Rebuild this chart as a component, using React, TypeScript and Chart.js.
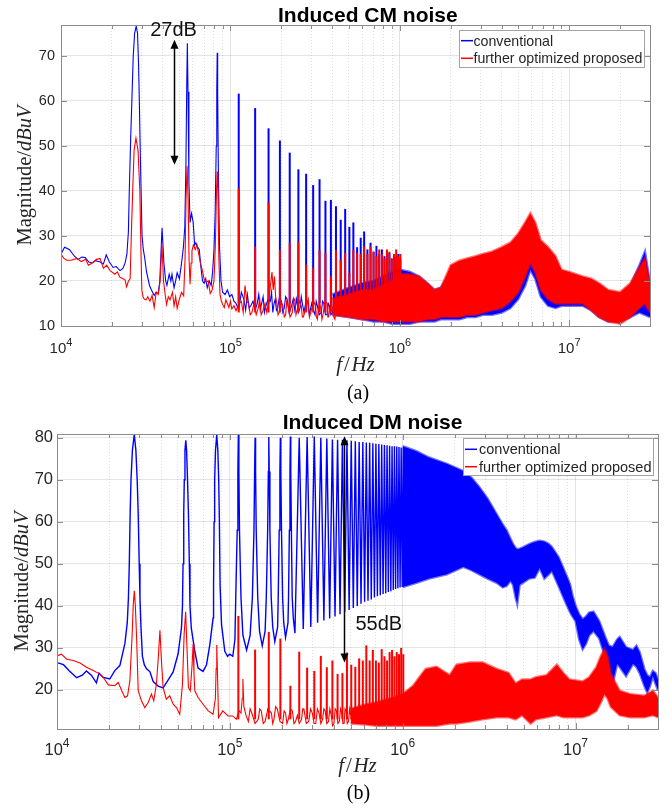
import React, { useEffect, useRef } from "react";
import { Chart, registerables } from "chart.js";

Chart.register(...registerables);

type Pair = [number, number];

/* ===================== DATA (frequency in kHz, magnitude in dBuV) ===================== */

const seriesNames = ["conventional", "further optimized proposed"];
const decadeExponents = [4, 5, 6, 7];

// switching harmonics k = 4 ... 36
const harmonicKHz = [112, 140, 168, 196, 224, 252, 280, 308, 336, 364, 392, 420, 448, 476, 504, 532, 560, 588, 616, 644, 672, 700, 728, 756, 784, 812, 840, 868, 896, 924, 952, 980, 1008];

/* ---------- (a) Induced CM noise ---------- */
const cmConvLow: Pair[] = [
  [10, 26], [10.5, 27.5], [11.2, 27], [12, 25.5], [12.6, 24.8], [13.3, 25.3], [13.9, 25.2], [14.6, 24.2], [15.2, 24], [16, 24.5],
  [17, 24.2], [17.8, 23.8], [18.5, 25.8], [19.3, 24.2], [20.3, 23], [21.2, 23.2], [22.3, 22.3], [23.2, 22.8], [23.9, 24], [24.5, 26],
  [25, 31], [25.3, 40], [25.8, 52], [26.2, 60], [26.7, 70], [27.2, 75], [27.8, 76.6], [28.3, 75], [28.7, 68], [29, 60],
  [29.4, 48], [29.7, 40], [30.1, 30], [30.6, 27], [31.1, 25.5], [32, 22], [33.3, 19], [34.2, 18], [35.5, 16.8], [36.5, 17.5],
  [37.5, 17.2], [38.3, 20], [39.5, 31.8], [40.5, 24], [41.5, 20], [42.2, 19], [43.5, 21.5], [44.5, 20], [45.2, 21.5], [46.5, 18.5],
  [47.5, 20], [48.5, 21.8], [50, 20.5], [51.5, 24], [52.8, 27.5], [53.8, 32], [54.6, 45], [55.2, 62], [55.7, 72.8], [56.2, 62],
  [56.9, 42], [57.8, 33], [59, 35], [60.3, 33], [61.5, 28], [62.5, 28.5], [64, 27.5], [65.5, 27], [67, 23], [68.5, 20],
  [70, 19.5], [71.5, 20.5], [73, 18.5], [75, 20], [77, 19], [78.5, 22], [80, 27], [81.3, 35], [82.5, 50], [83.1, 62],
  [83.6, 70.7], [84.1, 62], [84.9, 45], [86.2, 28], [88, 20], [90, 17.5], [93, 17], [96, 18], [99, 16.5], [102, 17], [105, 15.5],
];
const cmPropLow: Pair[] = [
  [10, 26], [10.4, 25], [10.8, 24.6], [11.5, 24.6], [12.4, 25], [13.2, 24.3], [14, 24.8], [14.5, 23.5], [15.3, 24], [16.2, 24.8],
  [17, 25], [17.8, 22.8], [18.6, 23.5], [19.5, 22.3], [20.8, 21.5], [21.5, 22], [22.3, 20.8], [23.3, 20.5], [23.9, 20.2], [24.4, 18.7],
  [25, 20], [25.6, 20.5], [26, 30], [26.5, 40], [27, 49], [27.7, 51.7], [28.5, 49], [29.2, 40], [29.6, 28], [30, 18],
  [30.5, 16.5], [31, 16], [31.8, 15.8], [32.5, 16.5], [33.5, 15.5], [34.5, 16.8], [35.5, 14.1], [36.5, 17.5], [37.5, 17], [38.5, 20],
  [39.4, 28.4], [40.3, 20], [41.2, 17], [42, 14.8], [43, 16.5], [44, 15.8], [45.5, 17.5], [46.5, 14.5], [47.5, 16.5], [48.5, 13.9],
  [50, 16], [51.5, 17.5], [53, 16.7], [54, 25], [54.7, 38], [55.5, 45.6], [56.3, 38], [57, 25], [57.8, 19.3], [58.6, 24],
  [59.3, 26.7], [60.5, 28], [62, 27], [63.5, 28], [65, 26], [66.5, 24], [68, 22.7], [70, 20.4], [72, 19.8], [74, 20],
  [76, 17.2], [78, 18], [80, 20], [81.5, 28], [82.8, 40], [83.6, 44.3], [84.4, 40], [85.5, 25], [86.8, 17], [88.5, 15.5],
  [90, 14.8], [92, 14.1], [94, 15.8], [96, 15], [98, 14.1], [100, 15.5], [102, 13.8], [105, 14.5],
];
const cmConvPeaks = [61.6, 58.4, 53.9, 51.2, 48.5, 44.8, 43.8, 41.3, 42.6, 37.8, 38, 36.6, 33.6, 36, 32, 33, 27.5, 29.6, 31, 27, 28.5, 26.5, 27.8, 26, 27, 25.5, 26, 26.2, 25, 25.5, 25.5, 26, 25];
const cmPropPeaks = [40.6, 27.6, 37.4, 26.9, 28.4, 28.7, 23.6, 22.9, 26.9, 26.2, 21, 26.9, 24.7, 26.2, 21.8, 26.9, 26.2, 26, 27.6, 26, 27.6, 26.5, 25.5, 27, 26, 25, 27, 26.5, 25, 26, 27, 25.5, 26];
const cmConvSpikeBase = 15;
const cmPropSpikeBase = 13;
const cmConvFloor: Pair[] = [
  [108, 15], [112, 13.5], [116, 17.5], [120, 16], [123, 13.5], [126, 17], [129, 14], [132, 14.5], [136, 15.5], [140, 13.5],
  [144, 15], [147, 17], [150, 13.5], [153, 15], [156, 16.5], [159, 13], [162, 14.5], [167, 16], [172, 15.5], [175, 17.5],
  [178, 13], [181, 15], [184, 16], [187, 13.5], [190, 14], [195, 16.5], [200, 15.5], [204, 13], [208, 14], [212, 16.5],
  [216, 16], [222, 13], [230, 14.5], [235, 16], [240, 13.5], [246, 16], [252, 13], [258, 14], [262, 16.5], [266, 15],
  [272, 13], [278, 15], [286, 15.5], [292, 12.5], [296, 13.5], [302, 15], [309, 13.5], [316, 12.5], [321, 15.5], [326, 14.5],
  [334, 12.5], [344, 13], [350, 15.5], [356, 15], [364, 12.5], [372, 12.5], [378, 15], [384, 14.5], [392, 12.5], [400, 13],
  [410, 15.5], [420, 12.5], [430, 12.5],
];
const cmPropFloor: Pair[] = [
  [108, 13.4], [112, 15], [116, 15.5], [119, 13], [122, 19], [125, 15.5], [128, 15], [131, 12.5], [134, 13], [138, 15],
  [142, 12.5], [146, 14], [149, 16], [152, 12.5], [156, 13.5], [160, 15], [164, 13], [170, 17], [173, 19.5], [176, 22],
  [179, 18], [182, 21], [185, 16.5], [188, 15], [191, 12.5], [194, 13], [199, 15.5], [204, 14.5], [208, 12], [212, 12.5],
  [215, 15.5], [218, 15], [225, 12], [232, 13], [236, 15.5], [240, 16], [244, 12.5], [248, 13.5], [255, 15.5], [262, 14.5],
  [266, 12], [270, 12], [280, 14.5], [288, 16], [293, 12], [298, 13], [310, 15.5], [318, 14.5], [322, 12], [326, 11.5],
  [334, 15], [342, 14], [347, 11.5], [352, 12.5], [362, 15.5], [372, 15], [376, 12], [380, 12], [390, 15], [402, 14],
  [408, 12], [414, 11.5], [422, 14.5], [430, 13],
];
const cmBandKHz = [400, 500, 600, 700, 800, 900, 1000, 1150, 1300, 1450, 1600, 1750, 2000, 2250, 2500, 2800, 3100, 3500, 4000, 4500, 5000, 5500, 5900, 6300, 6800, 7500, 8300, 9000, 10000, 12000, 13500, 15000, 17000, 20000, 23000, 26000, 28000, 30000];
const cmPropBandHi = [16, 17, 18, 18, 19, 20, 21.5, 21.5, 21, 19.5, 18, 18.5, 23.5, 24.5, 25, 25.5, 26, 26.5, 27.5, 28.5, 30.5, 33, 35, 33, 29, 27.5, 25.5, 22.5, 22, 21, 20.5, 19.5, 18, 17.5, 19.5, 23, 25, 19];
const cmPropBandLo = [12.5, 12, 11.5, 11.5, 11, 11, 11, 11, 11, 11.5, 11.5, 12, 12, 12, 12.5, 12.5, 13, 13.5, 14, 15.5, 17.5, 21, 24, 22, 18, 16, 15, 15, 15, 15, 13.5, 12, 11, 10.5, 12, 14, 15, 13];
const cmConvBandHi = [17, 18.5, 19.5, 20, 21, 22, 22.5, 22, 21, 19.5, 18, 18.5, 22, 23, 24, 24.5, 25, 25.5, 26, 27, 28, 29, 30, 29, 27, 26, 24.5, 22, 21.5, 20.5, 20, 19, 17.5, 17, 19, 23.5, 26.5, 19.5];
const cmConvBandLo = [12.5, 12, 11.5, 11, 11, 10.5, 10.5, 10.5, 11, 11, 11, 11.5, 11.5, 11.5, 12, 12, 12.5, 12.5, 13, 14, 16, 19, 22.5, 20.5, 16.5, 14.5, 14, 14.5, 14.5, 14.5, 13.5, 12, 11, 11, 12, 13, 12.5, 12];
const cmGap = { kHz: 46.5, topDb: 73.6, bottomDb: 45.8, labelDb: 74.5, label: "27dB" };

/* ---------- (b) Induced DM noise ---------- */
const dmConvLow: Pair[] = [
  [10, 26.5], [10.9, 26], [11.8, 24.5], [13, 22.9], [14, 23.5], [14.8, 24.5], [15.8, 23.5], [16.9, 21.7], [17.5, 24], [18.5, 23],
  [20.2, 22.6], [21.6, 24.6], [23.1, 25.8], [24.7, 31], [25.5, 36], [25.9, 42], [26.2, 50], [26.5, 62], [26.8, 70], [27.3, 77],
  [28, 80.8], [28.6, 77], [29.1, 70], [29.5, 62], [29.9, 50], [30.2, 42], [30.6, 35], [31.2, 28], [32, 26], [32.9, 25.1],
  [34.5, 24.3], [36, 22], [38.5, 20.9], [41.1, 20.5], [44, 22.4], [47, 24.3], [50.2, 28.6], [52.5, 34.8], [53.2, 40], [53.6, 50],
  [54.1, 62], [54.5, 70], [55, 77], [55.6, 79.4], [56.2, 77], [56.9, 70], [57.6, 62], [58.3, 50], [58.8, 40], [59.8, 34.8],
  [62.7, 29.2], [65.5, 25.2], [70, 24.4], [73.3, 26], [76.6, 30.8], [80, 37.1], [80.5, 45], [81.1, 60], [81.7, 70], [82.6, 77],
  [84, 80.7], [85.2, 77], [86.2, 70], [87, 60], [87.8, 45], [89.5, 35.6], [93.5, 29.2], [97, 28], [99.8, 28.5], [104, 28],
  [107, 32], [108.2, 42], [110.3, 58], [111.3, 72], [112, 80.7], [112.8, 72], [113.7, 58], [116, 42], [119, 33], [125, 29.5],
  [131, 33], [135, 42], [137.9, 58], [139.1, 72], [140, 80], [140.9, 72], [142.1, 58], [145, 42], [148.5, 34], [154, 30.5],
  [160, 34], [162.5, 42], [165.5, 58], [167, 72], [168, 80.2], [169, 72], [170.5, 58], [173.5, 42], [177, 35], [182, 31.5],
  [189, 35], [190.5, 42], [193, 58], [194.8, 72], [196, 80], [197.2, 72], [199, 58], [202, 42], [205, 36], [210, 32.5],
  [217, 36], [218.5, 42], [221, 58], [222.8, 72], [224, 80.3], [225.2, 72], [227, 58], [229.5, 42], [233, 37], [238, 33.5],
];
// peaks of harmonics k = 9 ... 36 and the valleys between them
const dmConvPeaks = [80, 80.2, 80.3, 80, 79.8, 79.6, 79.5, 79.5, 79.4, 79.3, 79.2, 79, 79, 78.9, 78.8, 78.7, 78.6, 78.5, 78.4, 78.3, 78.2, 78.1, 78, 78, 77.9, 77.8, 77.7, 77.6];
const dmValleyKHz = [266, 294, 322, 350, 378, 406, 434, 462, 490, 518, 546, 574, 602, 630, 658, 686, 714, 742, 770, 798, 826, 854, 882, 910, 938, 966, 994];
const dmConvValleys = [34.5, 35, 36, 36.5, 37, 37.5, 38, 38.5, 39, 39.5, 40, 40.5, 41, 41.2, 41.5, 42, 42.3, 42.5, 42.8, 43, 43.3, 43.5, 43.8, 44, 44.2, 44.4, 44.5];
const dmConvBandKHz = [1000, 1200, 1420, 1800, 2240, 2500, 2780, 3100, 3500, 3800, 4000, 4200, 4350, 4500, 4600, 4750, 5000, 5400, 5800, 6200, 6600, 7000, 7300, 8000, 8800, 9300, 9600, 10000, 10500, 11000, 11500, 12000, 12700, 13700, 14900, 15600, 16400, 17400, 18000, 19600, 21500, 22500, 23500, 25000, 26000, 27000, 28000, 29000, 30000];
const dmConvBandHi = [78, 76.8, 75.3, 73.8, 72.1, 70.5, 68.2, 65.5, 61.8, 59.3, 57.9, 56, 54.7, 53.8, 53.5, 53.6, 54, 54.7, 55.2, 55.5, 55.3, 54.7, 54, 51.5, 47.5, 45.1, 42.5, 40, 38, 36.8, 37.5, 38.4, 38.6, 36.4, 32.5, 30.5, 30.2, 32, 32.6, 30.2, 29.5, 30.5, 29, 25, 23.5, 23, 24.5, 24, 22.5];
const dmConvBandLo = [44.5, 45.5, 46.5, 47.5, 49.3, 48.5, 47.5, 46.5, 45.5, 44.4, 44.8, 46, 45, 42, 40.5, 45, 45.6, 46.5, 46.7, 49, 46.5, 47.5, 48.3, 44.6, 40.6, 38.5, 37.5, 36.4, 32, 29.7, 31, 33, 34, 32.3, 27.7, 24.5, 21.4, 26.2, 25.5, 23.3, 26.2, 25.5, 24, 21, 19.4, 21, 23.3, 21.5, 20];
const dmPropLow: Pair[] = [
  [10, 28.1], [10.6, 28.5], [11.4, 27.3], [12.4, 27], [13.6, 26.4], [14.8, 25.4], [16.2, 24.6], [17.3, 24], [18.5, 23], [19.8, 21.2],
  [21.6, 21], [22.6, 21.8], [23.7, 19.8], [24.7, 18.2], [25.6, 18.6], [26.4, 22.2], [27.2, 33], [27.6, 40], [28, 43.6], [28.4, 40],
  [28.9, 32], [29.5, 19.8], [30.8, 17.4], [32.2, 15.8], [33.7, 17], [35.2, 19], [36.3, 17.4], [37.6, 21.4], [38.6, 28], [39.4, 34.2],
  [40.2, 27], [41.1, 20.6], [42.9, 17.8], [44.9, 18.6], [47, 16.6], [49.1, 15.8], [51.3, 14.2], [53.2, 21.4], [54.4, 33.3], [55.5, 38.6],
  [56.5, 30], [57.6, 20.6], [59, 19.8], [60.5, 26], [61.3, 30.9], [62, 24], [62.7, 19.8], [65.5, 18.2], [70, 16.6], [75, 15],
  [80, 14.2], [82.5, 18], [83.3, 25], [84, 30.7], [84.8, 24], [86, 13.4], [91, 15], [97.7, 13.8], [104, 13.8],
];
const dmPropPeaks = [37.6, 29.6, 33.8, 32.2, 21, 29.1, 25.3, 24.5, 28.1, 25.4, 27, 23.8, 24, 28.9, 26, 25.5, 27.5, 27, 30.6, 27, 29.5, 27, 26.5, 29.7, 28, 27, 29, 29.5, 28, 29, 28.5, 30, 28.5];
const dmPropSpikeBase = 13;
const dmPropFloor: Pair[] = [
  [109, 13], [113, 15], [116, 14.5], [118, 18], [119, 22.6], [120.5, 16], [124, 14], [128, 12.5], [131, 15.5], [134, 14.5],
  [140, 12], [146, 13], [149, 15.5], [152, 15], [156, 12], [160, 12.5], [166, 15.5], [174, 14.5], [177, 12], [180, 13],
  [184, 16], [188, 15.5], [195, 12.5], [202, 12], [206, 15], [210, 14.5], [214, 12], [218, 13], [224, 15.5], [230, 15],
  [235, 12], [240, 12.5], [246, 14], [252, 12], [260, 13], [264, 15.5], [268, 15.5], [277, 12], [286, 12.5], [293, 15.5],
  [300, 14.5], [307, 12], [314, 12], [321, 15.5], [328, 14.5], [336, 12], [344, 13], [350, 15.5], [356, 15], [364, 12],
  [372, 12.5], [379, 15.5], [386, 14], [393, 11.5], [400, 12], [407, 15.5], [414, 15], [422, 12], [430, 12.5], [437, 15.5],
  [444, 14.5], [451, 12], [458, 12], [464, 15.5], [470, 15], [478, 12], [486, 12.5], [493, 15.5], [500, 14],
];
const dmPropBandKHz = [500, 600, 700, 850, 1000, 1150, 1250, 1360, 1570, 1870, 2050, 2450, 2900, 3500, 4100, 4500, 4900, 5500, 5900, 6800, 7800, 8500, 9200, 11000, 12000, 13200, 14000, 14700, 15300, 16000, 18000, 20600, 25000, 28000, 30000];
const dmPropBandHi = [15.5, 16.5, 17, 18, 19, 21, 23, 25, 25.5, 23.5, 26, 26.5, 26.5, 25, 24, 21.5, 22.5, 22.5, 23, 23.5, 26, 24, 22.5, 22, 23, 25.4, 28, 29.7, 28, 23.8, 19.8, 19, 18.6, 19.8, 18.2];
const dmPropBandLo = [12, 11.8, 11.5, 11.5, 11.5, 11.5, 11.5, 11.5, 11.5, 12, 12, 12.5, 13, 13.5, 13.5, 13, 14, 12, 13, 13.5, 14, 13.5, 13.5, 13.5, 14, 15, 17, 19, 18, 16, 14, 13.5, 13.5, 14, 13.5];
const dmGap = { kHz: 455, topDb: 80.35, bottomDb: 26.5, labelDb: 34.3, label: "55dB" };

/* ===================== STYLE / BUILDERS ===================== */

const SANS = '"Liberation Sans", Arial, Helvetica, sans-serif';
const SERIF = '"Liberation Serif", "Times New Roman", serif';
const TEXT = "#262626";
const AXIS = "#8c8c8c";
const BLUE = "#0000ff";
const RED = "#ff0000";
const BLUE_FRINGE = "rgba(0,0,255,0.55)";
const RED_FRINGE = "rgba(255,0,0,0.55)";
const W = 671;

const toHz = (k: number) => k * 1000;
const pts = (p: Pair[]) => p.map(([k, v]) => ({ x: toHz(k), y: v }));
const series = (f: number[], v: number[]) => f.map((k, i) => ({ x: toHz(k), y: v[i] }));
const spikes = (f: number[], peaks: number[], base: number) => f.map((k, i) => ({ x: toHz(k), y: [base, peaks[i]] }));
const zigzag = (pf: number[], pv: number[], vf: number[], vv: number[]) => {
  const out: any[] = [];
  pf.forEach((k, i) => {
    out.push({ x: toHz(k), y: pv[i] });
    if (i < vf.length) out.push({ x: toHz(vf[i]), y: vv[i] });
  });
  return out;
};

const lineDs = (data: any[], color: string, order: number, extra: any = {}) => ({
  type: "line", data, borderColor: color, backgroundColor: color, borderWidth: 1.1,
  pointRadius: 0, pointHoverRadius: 0, tension: 0, fill: false, order, ...extra,
});
const barDs = (data: any[], color: string, order: number) => ({
  type: "bar", data, backgroundColor: color, borderWidth: 0, grouped: false,
  barPercentage: 1, categoryPercentage: 1, maxBarThickness: 2, inflateAmount: 0, order,
});
const bandDs = (f: number[], lo: number[], hi: number[], color: string, fringe: string, order: number) => [
  lineDs(series(f, lo), fringe, order, { borderWidth: 2.5, backgroundColor: color }),
  lineDs(series(f, hi), fringe, order, { borderWidth: 2.5, backgroundColor: color, fill: "-1" }),
];

const cmDatasets = [
  ...bandDs(cmBandKHz, cmPropBandLo, cmPropBandHi, RED, RED_FRINGE, 0),
  lineDs(pts([...cmPropLow, ...cmPropFloor]), RED, 0),
  barDs(spikes(harmonicKHz, cmPropPeaks, cmPropSpikeBase), RED, 0),
  ...bandDs(cmBandKHz, cmConvBandLo, cmConvBandHi, BLUE, BLUE_FRINGE, 1),
  lineDs(pts([...cmConvLow, ...cmConvFloor]), BLUE, 1),
  barDs(spikes(harmonicKHz, cmConvPeaks, cmConvSpikeBase), BLUE, 1),
];

const dmDatasets = [
  ...bandDs(dmPropBandKHz, dmPropBandLo, dmPropBandHi, RED, RED_FRINGE, 0),
  lineDs(pts([...dmPropLow, ...dmPropFloor]), RED, 0),
  barDs(spikes(harmonicKHz, dmPropPeaks, dmPropSpikeBase), RED, 0),
  ...bandDs(dmConvBandKHz, dmConvBandLo, dmConvBandHi, BLUE, BLUE_FRINGE, 1),
  lineDs([...pts(dmConvLow), ...zigzag(harmonicKHz.slice(5), dmConvPeaks, dmValleyKHz, dmConvValleys)], BLUE, 1, { borderWidth: 1.4 }),
];

const cmSpec = {
  height: 405,
  area: { left: 61, top: 25, right: 650, bottom: 326 },
  yMin: 10, yMax: 76.85,
  datasets: cmDatasets,
  yTick: { size: 14.5, pad: 6 },
  xTick: { size: 15, sup: 11, dy: 27, supDy: 20 },
  title: { text: "Induced CM noise", x: 278, y: 22, size: 21 },
  legend: { x: 459, y: 30, w: 185, h: 37, rows: [10.7, 28.3], l0: 2, l1: 14, tx: 14.5, size: 14.2 },
  gap: cmGap, gapAlign: "center", gapDx: -1,
  yLabel: { x: 31, size: 20.5 },
  xLabel: { dy: 45, size: 21 },
  caption: { text: "(a)", x: 358, y: 399, size: 20 },
};

const dmSpec = {
  height: 405,
  area: { left: 57, top: 29, right: 658, bottom: 324 },
  yMin: 10.7, yMax: 80.9,
  datasets: dmDatasets,
  yTick: { size: 16.5, pad: 4 },
  xTick: { size: 16.5, sup: 12, dy: 26, supDy: 17.5 },
  title: { text: "Induced DM noise", x: 282.7, y: 24.3, size: 21 },
  legend: { x: 463, y: 33, w: 190, h: 37, rows: [11.3, 28.7], l0: 2, l1: 14, tx: 16, size: 14.5 },
  gap: dmGap, gapAlign: "left", gapDx: 11,
  yLabel: { x: 28, size: 20.5 },
  xLabel: { dy: 43, size: 21 },
  caption: { text: "(b)", x: 358.5, y: 394, size: 20 },
};

function decorPlugin(s: any) {
  return {
    id: "decor",
    afterDraw(chart: any) {
      const ctx = chart.ctx;
      const a = chart.chartArea;
      const xs = chart.scales.x;
      const ys = chart.scales.y;
      ctx.save();

      // inner tick marks and axes box
      ctx.strokeStyle = AXIS;
      ctx.lineWidth = 1;
      ctx.beginPath();
      for (const t of xs.ticks) {
        const px = Math.round(xs.getPixelForValue(t.value)) + 0.5;
        const len = t.major ? 6 : 4;
        ctx.moveTo(px, a.top); ctx.lineTo(px, a.top + len);
        ctx.moveTo(px, a.bottom); ctx.lineTo(px, a.bottom - len);
      }
      for (const t of ys.ticks) {
        const py = Math.round(ys.getPixelForValue(t.value)) + 0.5;
        ctx.moveTo(a.left, py); ctx.lineTo(a.left + 6, py);
        ctx.moveTo(a.right, py); ctx.lineTo(a.right - 6, py);
      }
      ctx.stroke();
      ctx.strokeRect(Math.round(a.left) + 0.5, Math.round(a.top) + 0.5, Math.round(a.right - a.left), Math.round(a.bottom - a.top));

      // x tick labels 10^n
      ctx.fillStyle = TEXT;
      ctx.textAlign = "left";
      ctx.textBaseline = "alphabetic";
      for (const e of decadeExponents) {
        const px = xs.getPixelForValue(Math.pow(10, e));
        const fBase = `${s.xTick.size}px ${SANS}`;
        const fSup = `${s.xTick.sup}px ${SANS}`;
        ctx.font = fBase;
        const w1 = ctx.measureText("10").width;
        ctx.font = fSup;
        const w2 = ctx.measureText(String(e)).width;
        const x0 = px - (w1 + w2) / 2;
        ctx.font = fBase;
        ctx.fillText("10", x0, a.bottom + s.xTick.dy);
        ctx.font = fSup;
        ctx.fillText(String(e), x0 + w1, a.bottom + s.xTick.supDy);
      }

      // x axis title  f/Hz
      {
        const fi = `italic ${s.xLabel.size}px ${SERIF}`;
        const fn = `${s.xLabel.size}px ${SERIF}`;
        const parts: [string, string, number][] = [["f", fi, 2], ["/", fn, 1.5], ["Hz", fi, 0]];
        let total = 0;
        for (const [t, f, g] of parts) { ctx.font = f; total += ctx.measureText(t).width + g; }
        let x = (a.left + a.right) / 2 - total / 2;
        const y = a.bottom + s.xLabel.dy;
        for (const [t, f, g] of parts) { ctx.font = f; ctx.fillText(t, x, y); x += ctx.measureText(t).width + g; }
      }

      // y axis title  Magnitude/dBuV
      {
        ctx.save();
        ctx.translate(s.yLabel.x, (a.top + a.bottom) / 2);
        ctx.rotate(-Math.PI / 2);
        const fn = `${s.yLabel.size}px ${SERIF}`;
        const fi = `italic ${s.yLabel.size}px ${SERIF}`;
        ctx.font = fn; const w1 = ctx.measureText("Magnitude/").width;
        ctx.font = fi; const w2 = ctx.measureText("dBuV").width;
        const x0 = -(w1 + w2) / 2;
        ctx.font = fn; ctx.fillText("Magnitude/", x0, 0);
        ctx.font = fi; ctx.fillText("dBuV", x0 + w1, 0);
        ctx.restore();
      }

      // title
      ctx.fillStyle = "#000";
      ctx.font = `bold ${s.title.size}px ${SANS}`;
      ctx.fillText(s.title.text, s.title.x, s.title.y);

      // caption
      ctx.font = `${s.caption.size}px ${SERIF}`;
      ctx.textAlign = "center";
      ctx.fillText(s.caption.text, s.caption.x, s.caption.y);
      ctx.textAlign = "left";

      // double arrow + gap label
      {
        const g = s.gap;
        const ax = Math.round(xs.getPixelForValue(toHz(g.kHz))) + 0.5;
        const y1 = ys.getPixelForValue(g.topDb);
        const y2 = ys.getPixelForValue(g.bottomDb);
        ctx.strokeStyle = "#000";
        ctx.fillStyle = "#000";
        ctx.lineWidth = 1.5;
        ctx.beginPath(); ctx.moveTo(ax, y1 + 7); ctx.lineTo(ax, y2 - 7); ctx.stroke();
        ctx.beginPath(); ctx.moveTo(ax, y1); ctx.lineTo(ax - 4, y1 + 9); ctx.lineTo(ax + 4, y1 + 9); ctx.closePath(); ctx.fill();
        ctx.beginPath(); ctx.moveTo(ax, y2); ctx.lineTo(ax - 4, y2 - 9); ctx.lineTo(ax + 4, y2 - 9); ctx.closePath(); ctx.fill();
        ctx.font = `20px ${SANS}`;
        ctx.fillStyle = "#111";
        ctx.textAlign = s.gapAlign;
        ctx.fillText(g.label, ax + s.gapDx, ys.getPixelForValue(g.labelDb));
        ctx.textAlign = "left";
      }

      // legend
      {
        const L = s.legend;
        ctx.fillStyle = "#fff";
        ctx.fillRect(L.x, L.y, L.w, L.h);
        ctx.strokeStyle = "#a3a3a3";
        ctx.lineWidth = 1;
        ctx.strokeRect(L.x + 0.5, L.y + 0.5, L.w, L.h);
        seriesNames.forEach((name, i) => {
          const cy = L.y + L.rows[i];
          ctx.strokeStyle = [BLUE, RED][i];
          ctx.lineWidth = 1.5;
          ctx.beginPath(); ctx.moveTo(L.x + L.l0, cy); ctx.lineTo(L.x + L.l1, cy); ctx.stroke();
          ctx.fillStyle = TEXT;
          ctx.font = `${L.size}px ${SANS}`;
          ctx.fillText(name, L.x + L.tx, cy + 5);
        });
      }
      ctx.restore();
    },
  };
}

function buildConfig(s: any): any {
  return {
    type: "line",
    data: { datasets: s.datasets },
    options: {
      responsive: false,
      animation: false,
      devicePixelRatio: 1,
      events: [],
      layout: { padding: { top: s.area.top, right: W - s.area.right, bottom: 0, left: 0 } },
      plugins: { legend: { display: false }, tooltip: { enabled: false }, title: { display: false } },
      scales: {
        x: {
          type: "logarithmic",
          min: 1e4,
          max: 3e7,
          offset: false,
          afterBuildTicks: (sc: any) => {
            sc.ticks = sc.ticks.filter((t: any) => {
              const m = t.value / Math.pow(10, Math.floor(Math.log10(t.value) + 1e-9));
              return Math.abs(m - Math.round(m)) < 1e-6;
            });
          },
          afterFit: (sc: any) => { sc.height = s.height - s.area.bottom; },
          ticks: { display: false, autoSkip: false },
          grid: {
            offset: false,
            drawTicks: false,
            lineWidth: 1,
            color: (c: any) => (c.tick && c.tick.major ? "rgba(0,0,0,0.11)" : "rgba(0,0,0,0.13)"),
          },
          border: { display: false, dash: (c: any) => (c.tick && c.tick.major ? [] : [1, 2]) },
        },
        y: {
          type: "linear",
          min: s.yMin,
          max: s.yMax,
          beginAtZero: false,
          afterFit: (sc: any) => { sc.width = s.area.left; },
          ticks: {
            stepSize: 10,
            includeBounds: false,
            color: TEXT,
            padding: s.yTick.pad,
            font: { family: SANS, size: s.yTick.size },
          },
          grid: { drawTicks: false, color: "rgba(0,0,0,0.10)", lineWidth: 1 },
          border: { display: false },
        },
      },
    },
    plugins: [decorPlugin(s)],
  };
}

export default function App() {
  const ref1 = useRef<HTMLCanvasElement>(null);
  const ref2 = useRef<HTMLCanvasElement>(null);
  useEffect(() => {
    const c1 = new Chart(ref1.current as HTMLCanvasElement, buildConfig(cmSpec));
    const c2 = new Chart(ref2.current as HTMLCanvasElement, buildConfig(dmSpec));
    return () => {
      c1.destroy();
      c2.destroy();
    };
  }, []);
  return (
    <div style={{ position: "absolute", left: 0, top: 0, width: W, height: 810, background: "#fff" }}>
      <canvas ref={ref1} width={W} height={405} style={{ position: "absolute", left: 0, top: 0, width: W, height: 405, display: "block" }} />
      <canvas ref={ref2} width={W} height={405} style={{ position: "absolute", left: 0, top: 405, width: W, height: 405, display: "block" }} />
    </div>
  );
}
